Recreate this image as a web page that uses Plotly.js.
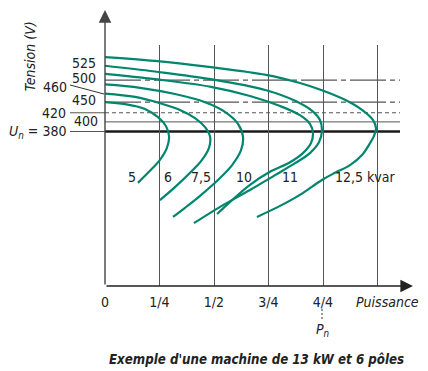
<!DOCTYPE html>
<html><head><meta charset="utf-8">
<script src="https://cdn.plot.ly/plotly-3.0.1.min.js"></script>
<style>html,body{margin:0;padding:0;background:#fff}#chart{width:428px;height:371px}</style>
</head><body><div id="chart"></div>
<script>
// Power fraction (1 = Pn) and voltage (V), per capacitor rating
const curveNames = ['5', '6', '7,5', '10', '11', '12,5 kvar'];
const p5  = [0, .092, .183, .243, .280, .294, .284, .252, .206, .151];
const v5  = [441, 437, 427, 410, 391, 369, 346, 321, 298, 273];
const p6  = [0, .138, .252, .344, .413, .459, .482, .477, .445, .390, .321, .252];
const v6  = [459, 452, 439, 425, 408, 389, 369, 346, 321, 294, 264, 237];
const p75 = [0, .161, .321, .459, .550, .610, .633, .624, .583, .518, .436, .367, .312];
const v75 = [478, 471, 458, 441, 421, 396, 369, 341, 310, 279, 246, 221, 202];
const p10 = [0, .229, .486, .665, .803, .894, .940, .954, .945, .908, .849, .757, .665, .583, .514];
const v10 = [500, 489, 473, 454, 433, 414, 396, 377, 356, 335, 316, 296, 269, 237, 208];
const p11 = [0, .229, .486, .739, .872, .950, .986, .995, .982, .940, .872, .780, .665, .528, .408];
const v11 = [517, 505, 489, 466, 444, 423, 404, 381, 358, 335, 314, 289, 258, 223, 189];
const p125 = [0, .229, .486, .739, .894, .995, 1.101, 1.179, 1.229, 1.243, 1.234, 1.216, 1.179, 1.124, 1.055, .995, .894, .803, .697];
const v125 = [535, 527, 514, 498, 481, 466, 446, 425, 404, 387, 371, 356, 331, 310, 294, 279, 248, 225, 202];

// x axis ticks
const xTickVals = [0, 0.25, 0.5, 0.75, 1, 1.25];
const xTickText = ['0', '1/4', '1/2', '3/4', '4/4', ''];

// horizontal reference voltage lines
const unV = 380, v400 = 400, dashedV = 419, dashDotV = [441, 487];

// curve label positions (power fraction, voltage)
const labelP = [.122, .290, .440, .639, .849, 1.193];
const labelV = [286, 286, 286, 286, 286, 286];

const font = 'DejaVu Sans Condensed, Liberation Sans, sans-serif';
const green = '#00866c';
const gray = '#555';
const xMax = 1.3532, yMin = 58.1, yMax = 560.2;

const P = [p5, p6, p75, p10, p11, p125];
const V = [v5, v6, v75, v10, v11, v125];
const traces = P.map((p, i) => ({
  x: p, y: V[i], type: 'scatter', mode: 'lines', name: curveNames[i],
  line: {color: green, width: 2.2, shape: 'spline', smoothing: 1}, hoverinfo: 'skip'
}));

const hline = (v, color, width, dash) => ({
  type: 'line', xref: 'x', yref: 'y', x0: 0, x1: xMax, y0: v, y1: v,
  line: {color, width, dash: dash || 'solid'}, layer: 'below'
});
const shapes = [
  hline(v400, gray, 1),
  hline(dashedV, gray, 1.2, '4px,3px'),
  hline(dashDotV[0], gray, 1.3, '36px,4px,5px,4px'),
  hline(dashDotV[1], gray, 1.3, '36px,4px,5px,4px'),
  hline(unV, '#1a1a1a', 2.6),
  // leader lines left of axis
  {type: 'line', xref: 'paper', yref: 'y', x0: -0.1186, x1: 0, y0: unV, y1: unV, line: {color: gray, width: 1}},
  {type: 'line', xref: 'paper', yref: 'y', x0: -0.1186, x1: 0, y0: dashedV, y1: dashedV, line: {color: gray, width: 1}},
  {type: 'line', xref: 'paper', yref: 'paper', x0: -0.1186, y0: 0.834, x1: -0.0034, y1: 0.7967, line: {color: '#333', width: 1}},
  // dashed connector 4/4 -> Pn
  {type: 'line', xref: 'paper', yref: 'paper', x0: 0.7356, x1: 0.7356, y0: -0.0954, y1: -0.141, line: {color: '#333', width: 1, dash: '2px,2px'}}
];

const txt = (text, x, y, opts) => Object.assign({
  text, x, y, xref: 'paper', yref: 'paper', showarrow: false,
  font: {family: font, size: 14, color: '#222'}, xanchor: 'center', yanchor: 'middle'
}, opts || {});

const annotations = [
  // axes with arrows
  {x: 1.044, y: 0, xref: 'paper', yref: 'paper', ax: -308, ay: 0, text: '', showarrow: true,
   arrowhead: 2, arrowsize: 1.8, arrowwidth: 1.4, arrowcolor: '#222', standoff: 0, startstandoff: 0},
  {x: 0, y: 1.145, xref: 'paper', yref: 'paper', ax: 0, ay: 276, text: '', showarrow: true,
   arrowhead: 2, arrowsize: 1.8, arrowwidth: 1.4, arrowcolor: '#444', standoff: 0, startstandoff: 0},
  txt('525', -0.0237, 0.9266, {xanchor: 'right'}),
  txt('500', -0.0237, 0.8643, {xanchor: 'right'}),
  txt('450', -0.0237, 0.7718, {xanchor: 'right'}),
  txt('400', -0.0169, 0.6846, {xanchor: 'right'}),
  txt('420', -0.1254, 0.7178, {xanchor: 'right'}),
  txt('<i>U</i><sub><i>n</i></sub> = 380', -0.1254, 0.639, {xanchor: 'right'}),
  txt('460', -0.1695, 0.8237),
  txt('<i>Tension (V)</i>', -0.254, 0.954, {textangle: -90}),
  txt('<i>Puissance</i>', 0.956, -0.0651),
  txt('<i>P</i><sub><i>n</i></sub>', 0.7356, -0.1826),
  txt('<b><i>Exemple d\'une machine de 13 kW et 6 pôles</i></b>', 0.512, -0.307, {font: {family: font, size: 13.2, color: '#222'}})
];
curveNames.forEach((n, i) => annotations.push({
  text: n, x: labelP[i], y: labelV[i], xref: 'x', yref: 'y', showarrow: false,
  font: {family: font, size: 14, color: '#222'}
}));

const layout = {
  width: 428, height: 371,
  margin: {l: 105, r: 28, t: 45, b: 85},
  paper_bgcolor: '#fff', plot_bgcolor: '#fff',
  showlegend: false,
  xaxis: {range: [0, xMax], tickvals: xTickVals, ticktext: xTickText, showgrid: true,
    gridcolor: gray, gridwidth: 1, zeroline: false, showline: false, ticks: '',
    tickfont: {family: font, size: 14, color: '#222'}, ticklabelstandoff: 6, fixedrange: true},
  yaxis: {range: [yMin, yMax], showgrid: false, zeroline: false, showline: false,
    showticklabels: false, ticks: '', fixedrange: true},
  shapes, annotations
};
Plotly.newPlot('chart', traces, layout, {staticPlot: true, displayModeBar: false});
</script></body></html>
